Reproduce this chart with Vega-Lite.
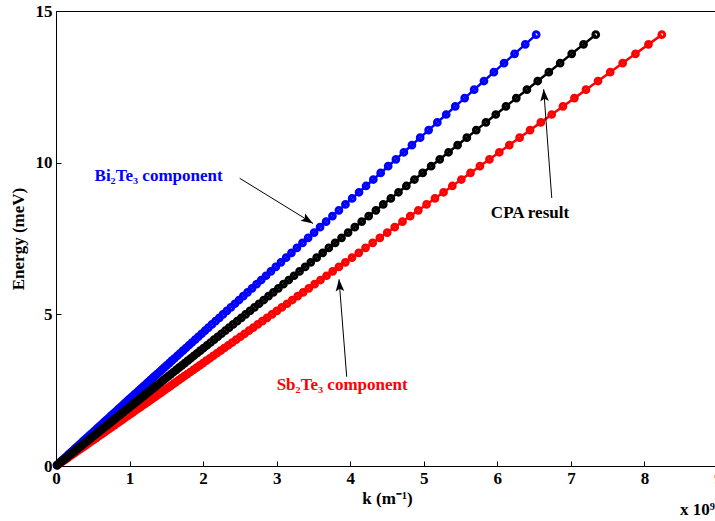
{
  "$schema": "https://vega.github.io/schema/vega-lite/v6.json",
  "autosize": "none",
  "width": 662,
  "height": 455,
  "padding": {"left": 56, "top": 11, "right": 0, "bottom": 55},
  "background": "white",
  "view": {"stroke": "black", "strokeWidth": 1},
  "config": {
    "font": "Liberation Serif",
    "axis": {
      "grid": false,
      "domainColor": "black",
      "tickColor": "black",
      "labelColor": "black",
      "titleColor": "black",
      "labelFont": "Liberation Serif",
      "titleFont": "Liberation Serif",
      "labelFontSize": 17,
      "labelFontWeight": "bold",
      "titleFontSize": 17,
      "titleFontWeight": "bold",
      "tickSize": -5,
      "labelFlush": false,
      "labelOverlap": false
    }
  },
  "datasets": {
    "dispersion": [
      {"E": 14.22, "Bi": 6.528, "CPA": 7.338, "Sb": 8.236},
      {"E": 13.90, "Bi": 6.380, "CPA": 7.172, "Sb": 8.055},
      {"E": 13.588, "Bi": 6.234, "CPA": 7.011, "Sb": 7.878},
      {"E": 13.282, "Bi": 6.091, "CPA": 6.854, "Sb": 7.704},
      {"E": 12.984, "Bi": 5.953, "CPA": 6.700, "Sb": 7.535},
      {"E": 12.692, "Bi": 5.818, "CPA": 6.549, "Sb": 7.369},
      {"E": 12.406, "Bi": 5.685, "CPA": 6.402, "Sb": 7.205},
      {"E": 12.128, "Bi": 5.556, "CPA": 6.258, "Sb": 7.048},
      {"E": 11.855, "Bi": 5.428, "CPA": 6.117, "Sb": 6.892},
      {"E": 11.588, "Bi": 5.305, "CPA": 5.979, "Sb": 6.739},
      {"E": 11.328, "Bi": 5.184, "CPA": 5.845, "Sb": 6.591},
      {"E": 11.073, "Bi": 5.066, "CPA": 5.714, "Sb": 6.445},
      {"E": 10.824, "Bi": 4.951, "CPA": 5.585, "Sb": 6.303},
      {"E": 10.581, "Bi": 4.839, "CPA": 5.460, "Sb": 6.163},
      {"E": 10.343, "Bi": 4.729, "CPA": 5.337, "Sb": 6.027},
      {"E": 10.110, "Bi": 4.621, "CPA": 5.217, "Sb": 5.893},
      {"E": 9.883, "Bi": 4.516, "CPA": 5.100, "Sb": 5.763},
      {"E": 9.661, "Bi": 4.414, "CPA": 4.985, "Sb": 5.635},
      {"E": 9.444, "Bi": 4.314, "CPA": 4.873, "Sb": 5.511},
      {"E": 9.231, "Bi": 4.215, "CPA": 4.763, "Sb": 5.388},
      {"E": 9.024, "Bi": 4.120, "CPA": 4.656, "Sb": 5.269},
      {"E": 8.821, "Bi": 4.026, "CPA": 4.552, "Sb": 5.152},
      {"E": 8.623, "Bi": 3.935, "CPA": 4.449, "Sb": 5.038},
      {"E": 8.429, "Bi": 3.846, "CPA": 4.349, "Sb": 4.926},
      {"E": 8.239, "Bi": 3.758, "CPA": 4.251, "Sb": 4.816},
      {"E": 8.054, "Bi": 3.672, "CPA": 4.156, "Sb": 4.710},
      {"E": 7.873, "Bi": 3.590, "CPA": 4.062, "Sb": 4.605},
      {"E": 7.696, "Bi": 3.509, "CPA": 3.971, "Sb": 4.503},
      {"E": 7.523, "Bi": 3.428, "CPA": 3.882, "Sb": 4.403},
      {"E": 7.354, "Bi": 3.351, "CPA": 3.795, "Sb": 4.305},
      {"E": 7.188, "Bi": 3.275, "CPA": 3.709, "Sb": 4.208},
      {"E": 7.027, "Bi": 3.201, "CPA": 3.626, "Sb": 4.116},
      {"E": 6.869, "Bi": 3.129, "CPA": 3.544, "Sb": 4.024},
      {"E": 6.714, "Bi": 3.058, "CPA": 3.464, "Sb": 3.934},
      {"E": 6.563, "Bi": 2.988, "CPA": 3.387, "Sb": 3.846},
      {"E": 6.416, "Bi": 2.921, "CPA": 3.311, "Sb": 3.761},
      {"E": 6.272, "Bi": 2.855, "CPA": 3.236, "Sb": 3.678},
      {"E": 6.131, "Bi": 2.790, "CPA": 3.164, "Sb": 3.596},
      {"E": 5.993, "Bi": 2.727, "CPA": 3.092, "Sb": 3.516},
      {"E": 5.858, "Bi": 2.665, "CPA": 3.023, "Sb": 3.437},
      {"E": 5.726, "Bi": 2.604, "CPA": 2.955, "Sb": 3.360},
      {"E": 5.598, "Bi": 2.546, "CPA": 2.889, "Sb": 3.286},
      {"E": 5.472, "Bi": 2.488, "CPA": 2.824, "Sb": 3.212},
      {"E": 5.349, "Bi": 2.432, "CPA": 2.760, "Sb": 3.141},
      {"E": 5.228, "Bi": 2.377, "CPA": 2.698, "Sb": 3.070},
      {"E": 5.111, "Bi": 2.323, "CPA": 2.637, "Sb": 3.002},
      {"E": 4.996, "Bi": 2.270, "CPA": 2.578, "Sb": 2.936},
      {"E": 4.884, "Bi": 2.220, "CPA": 2.520, "Sb": 2.870},
      {"E": 4.774, "Bi": 2.169, "CPA": 2.463, "Sb": 2.805},
      {"E": 4.667, "Bi": 2.120, "CPA": 2.408, "Sb": 2.743},
      {"E": 4.562, "Bi": 2.072, "CPA": 2.354, "Sb": 2.682},
      {"E": 4.459, "Bi": 2.025, "CPA": 2.301, "Sb": 2.622},
      {"E": 4.359, "Bi": 1.980, "CPA": 2.249, "Sb": 2.564},
      {"E": 4.261, "Bi": 1.935, "CPA": 2.199, "Sb": 2.506},
      {"E": 4.165, "Bi": 1.892, "CPA": 2.149, "Sb": 2.450},
      {"E": 4.071, "Bi": 1.848, "CPA": 2.101, "Sb": 2.395},
      {"E": 3.980, "Bi": 1.807, "CPA": 2.054, "Sb": 2.342},
      {"E": 3.890, "Bi": 1.766, "CPA": 2.007, "Sb": 2.289},
      {"E": 3.803, "Bi": 1.726, "CPA": 1.962, "Sb": 2.238},
      {"E": 3.717, "Bi": 1.687, "CPA": 1.918, "Sb": 2.188},
      {"E": 3.634, "Bi": 1.650, "CPA": 1.875, "Sb": 2.139},
      {"E": 3.552, "Bi": 1.612, "CPA": 1.833, "Sb": 2.092},
      {"E": 3.472, "Bi": 1.575, "CPA": 1.792, "Sb": 2.044},
      {"E": 3.394, "Bi": 1.540, "CPA": 1.751, "Sb": 1.999},
      {"E": 3.318, "Bi": 1.506, "CPA": 1.712, "Sb": 1.954},
      {"E": 3.243, "Bi": 1.471, "CPA": 1.673, "Sb": 1.911},
      {"E": 3.170, "Bi": 1.438, "CPA": 1.636, "Sb": 1.868},
      {"E": 3.099, "Bi": 1.406, "CPA": 1.599, "Sb": 1.826},
      {"E": 3.029, "Bi": 1.374, "CPA": 1.563, "Sb": 1.785},
      {"E": 2.961, "Bi": 1.342, "CPA": 1.528, "Sb": 1.745},
      {"E": 2.895, "Bi": 1.313, "CPA": 1.494, "Sb": 1.706},
      {"E": 2.830, "Bi": 1.283, "CPA": 1.460, "Sb": 1.668},
      {"E": 2.766, "Bi": 1.254, "CPA": 1.427, "Sb": 1.630},
      {"E": 2.704, "Bi": 1.226, "CPA": 1.395, "Sb": 1.594},
      {"E": 2.643, "Bi": 1.198, "CPA": 1.364, "Sb": 1.559},
      {"E": 2.584, "Bi": 1.171, "CPA": 1.333, "Sb": 1.524},
      {"E": 2.526, "Bi": 1.145, "CPA": 1.303, "Sb": 1.489},
      {"E": 2.469, "Bi": 1.119, "CPA": 1.274, "Sb": 1.457},
      {"E": 2.413, "Bi": 1.094, "CPA": 1.245, "Sb": 1.424},
      {"E": 2.359, "Bi": 1.069, "CPA": 1.217, "Sb": 1.392},
      {"E": 2.306, "Bi": 1.045, "CPA": 1.190, "Sb": 1.360},
      {"E": 2.254, "Bi": 1.022, "CPA": 1.163, "Sb": 1.329},
      {"E": 2.203, "Bi": 0.998, "CPA": 1.137, "Sb": 1.300},
      {"E": 2.154, "Bi": 0.976, "CPA": 1.111, "Sb": 1.271},
      {"E": 2.106, "Bi": 0.954, "CPA": 1.087, "Sb": 1.243},
      {"E": 2.058, "Bi": 0.932, "CPA": 1.062, "Sb": 1.214},
      {"E": 2.012, "Bi": 0.911, "CPA": 1.038, "Sb": 1.187},
      {"E": 1.95, "Bi": 0.883, "CPA": 1.006, "Sb": 1.151},
      {"E": 1.89, "Bi": 0.856, "CPA": 0.975, "Sb": 1.116},
      {"E": 1.83, "Bi": 0.829, "CPA": 0.944, "Sb": 1.080},
      {"E": 1.77, "Bi": 0.802, "CPA": 0.913, "Sb": 1.045},
      {"E": 1.71, "Bi": 0.774, "CPA": 0.882, "Sb": 1.009},
      {"E": 1.65, "Bi": 0.747, "CPA": 0.851, "Sb": 0.975},
      {"E": 1.59, "Bi": 0.720, "CPA": 0.820, "Sb": 0.939},
      {"E": 1.53, "Bi": 0.693, "CPA": 0.789, "Sb": 0.904},
      {"E": 1.47, "Bi": 0.665, "CPA": 0.759, "Sb": 0.868},
      {"E": 1.41, "Bi": 0.638, "CPA": 0.728, "Sb": 0.833},
      {"E": 1.35, "Bi": 0.611, "CPA": 0.697, "Sb": 0.797},
      {"E": 1.29, "Bi": 0.584, "CPA": 0.666, "Sb": 0.763},
      {"E": 1.23, "Bi": 0.557, "CPA": 0.635, "Sb": 0.727},
      {"E": 1.17, "Bi": 0.530, "CPA": 0.604, "Sb": 0.692},
      {"E": 1.11, "Bi": 0.503, "CPA": 0.573, "Sb": 0.656},
      {"E": 1.05, "Bi": 0.476, "CPA": 0.542, "Sb": 0.621},
      {"E": 0.99, "Bi": 0.447, "CPA": 0.511, "Sb": 0.585},
      {"E": 0.93, "Bi": 0.420, "CPA": 0.480, "Sb": 0.550},
      {"E": 0.87, "Bi": 0.393, "CPA": 0.449, "Sb": 0.514},
      {"E": 0.81, "Bi": 0.366, "CPA": 0.418, "Sb": 0.479},
      {"E": 0.75, "Bi": 0.339, "CPA": 0.387, "Sb": 0.444},
      {"E": 0.69, "Bi": 0.312, "CPA": 0.356, "Sb": 0.408},
      {"E": 0.63, "Bi": 0.285, "CPA": 0.325, "Sb": 0.373},
      {"E": 0.57, "Bi": 0.258, "CPA": 0.294, "Sb": 0.337},
      {"E": 0.51, "Bi": 0.231, "CPA": 0.263, "Sb": 0.302},
      {"E": 0.45, "Bi": 0.203, "CPA": 0.232, "Sb": 0.266},
      {"E": 0.39, "Bi": 0.176, "CPA": 0.201, "Sb": 0.231},
      {"E": 0.33, "Bi": 0.149, "CPA": 0.170, "Sb": 0.195},
      {"E": 0.27, "Bi": 0.122, "CPA": 0.139, "Sb": 0.160},
      {"E": 0.21, "Bi": 0.095, "CPA": 0.108, "Sb": 0.124},
      {"E": 0.15, "Bi": 0.068, "CPA": 0.077, "Sb": 0.089},
      {"E": 0.09, "Bi": 0.041, "CPA": 0.046, "Sb": 0.053},
      {"E": 0.03, "Bi": 0.014, "CPA": 0.015, "Sb": 0.018}
    ],
    "arrows": [
      {"name": "Bi", "k": 3.494, "E": 7.998, "k2": 2.497, "E2": 9.486},
      {"name": "CPA", "k": 6.630, "E": 12.420, "k2": 6.740, "E2": 8.836},
      {"name": "Sb", "k": 3.848, "E": 6.155, "k2": 3.952, "E2": 2.943}
    ],
    "notes": [
      {"who": "Bi", "k": 0.524, "E": 9.56, "label": "Bi₂Te₃ component"},
      {"who": "CPA", "k": 5.912, "E": 8.34, "label": "CPA result"},
      {"who": "Sb", "k": 3.0, "E": 2.67, "label": "Sb₂Te₃ component"}
    ],
    "scale_note": [
      {"k": 8.483, "E": -1.45, "label": "x 10⁹"}
    ]
  },
  "encoding": {
    "x": {
      "field": "k",
      "type": "quantitative",
      "title": "k (m⁻¹)",
      "scale": {"domain": [0, 9], "nice": false, "zero": false},
      "axis": {"values": [0, 1, 2, 3, 4, 5, 6, 7, 8, 9], "format": "d", "labelPadding": 9, "titlePadding": 4}
    },
    "y": {
      "field": "E",
      "type": "quantitative",
      "title": "Energy (meV)",
      "scale": {"domain": [0, 15], "nice": false, "zero": false},
      "axis": {"values": [0, 5, 10, 15], "format": "d", "labelPadding": 9, "titlePadding": 8}
    }
  },
  "layer": [
    {
      "data": {"name": "dispersion"},
      "transform": [{"fold": ["Bi"], "as": ["series", "k"]}],
      "mark": {"type": "line", "color": "#0000ff", "strokeWidth": 2.5,
               "point": {"filled": false, "size": 33, "strokeWidth": 3, "color": "#0000ff"}}
    },
    {
      "data": {"name": "dispersion"},
      "transform": [{"fold": ["Sb"], "as": ["series", "k"]}],
      "mark": {"type": "line", "color": "#ff0000", "strokeWidth": 2.5,
               "point": {"filled": false, "size": 33, "strokeWidth": 3, "color": "#ff0000"}}
    },
    {
      "data": {"name": "dispersion"},
      "transform": [{"fold": ["CPA"], "as": ["series", "k"]}],
      "mark": {"type": "line", "color": "#000000", "strokeWidth": 2.5,
               "point": {"filled": false, "size": 33, "strokeWidth": 3, "color": "#000000"}}
    },
    {
      "data": {"name": "arrows"},
      "mark": {"type": "rule", "color": "black", "strokeWidth": 1},
      "encoding": {"x2": {"field": "k2"}, "y2": {"field": "E2"}}
    },
    {
      "data": {"name": "arrows"},
      "transform": [{"filter": "datum.name === 'Bi'"}],
      "mark": {"type": "point", "filled": true, "color": "black", "opacity": 1,
               "shape": "M0,0L-0.36,1L0,0.8L0.36,1Z", "size": 576, "angle": 121.5}
    },
    {
      "data": {"name": "arrows"},
      "transform": [{"filter": "datum.name !== 'Bi'"}],
      "mark": {"type": "point", "filled": true, "color": "black", "opacity": 1,
               "shape": "M0,0L-0.36,1L0,0.8L0.36,1Z", "size": 576, "angle": 355.7}
    },
    {
      "data": {"name": "notes"},
      "mark": {"type": "text", "align": "left", "baseline": "middle", "fontSize": 17,
               "fontWeight": "bold", "font": "Liberation Serif"},
      "encoding": {
        "text": {"field": "label"},
        "color": {"field": "who", "type": "nominal", "legend": null,
                  "scale": {"domain": ["Bi", "CPA", "Sb"], "range": ["#0000ff", "#000000", "#ff0000"]}}
      }
    },
    {
      "data": {"name": "scale_note"},
      "mark": {"type": "text", "align": "left", "baseline": "middle", "fontSize": 17,
               "fontWeight": "bold", "font": "Liberation Serif", "color": "black", "clip": false},
      "encoding": {"text": {"field": "label"}}
    }
  ]
}
